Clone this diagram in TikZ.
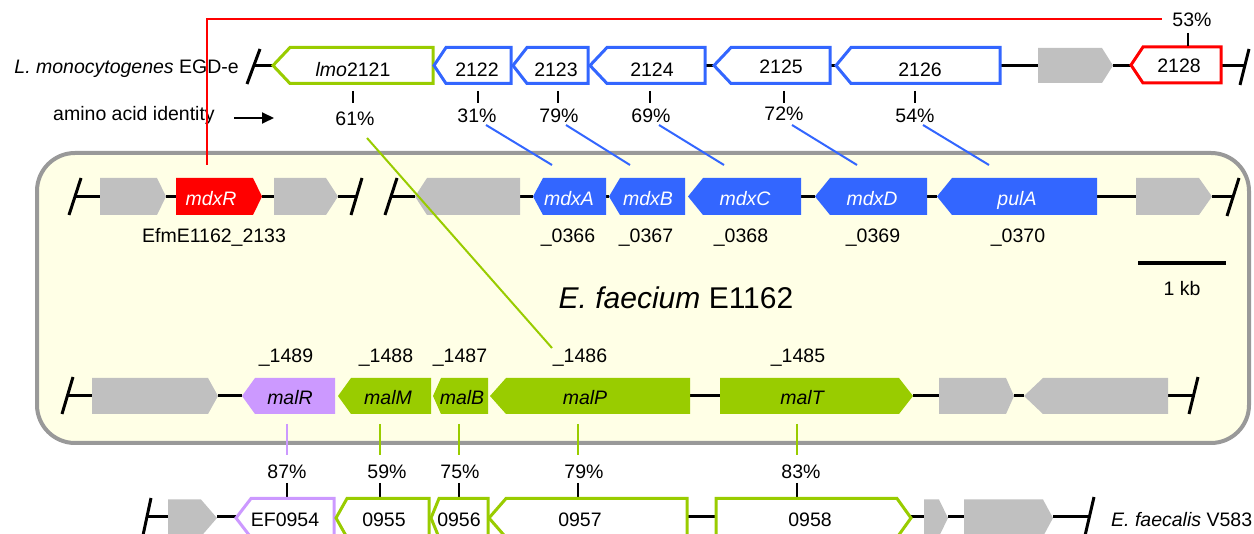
\documentclass[tikz,border=0pt]{standalone}
\usepackage{fontspec}
\setmainfont{Liberation Sans}
\usetikzlibrary{arrows.meta}
\definecolor{gblue}{HTML}{3366FF}
\definecolor{ggreen}{HTML}{99CC00}
\definecolor{gred}{HTML}{FF0000}
\definecolor{gpurple}{HTML}{CC99FF}
\definecolor{ggray}{HTML}{C0C0C0}
\definecolor{boxfill}{HTML}{FFFFE6}
\definecolor{boxline}{HTML}{999999}
% #1 style, #2 name, #3 tip, #4 shoulder, #5 right end, #6 top, #7 bottom
\newcommand\geneL[7]{\path[#1] (#3,{(#6+#7)/2}) -- (#4,#6) -- (#5,#6) -- (#5,#7) -- (#4,#7) -- cycle;
  \coordinate (#2) at ({(#3+#5)/2},{(#6+#7)/2});}
% #1 style, #2 name, #3 left end, #4 shoulder, #5 tip, #6 top, #7 bottom
\newcommand\geneR[7]{\path[#1] (#3,#6) -- (#4,#6) -- (#5,{(#6+#7)/2}) -- (#4,#7) -- (#3,#7) -- cycle;
  \coordinate (#2) at ({(#3+#5)/2},{(#6+#7)/2});}
\tikzset{
  txt/.style={font=\fontsize{19.5}{23}\selectfont, inner sep=0pt, anchor=base},
  itxt/.style={txt, font=\fontsize{19.5}{23}\selectfont\itshape},
  wtxt/.style={itxt, text=white},
  bb/.style={line width=3pt, black},
  tickst/.style={line width=1.5pt, black},
  ctick/.style={line width=2pt},
  conn/.style={line width=2pt},
  oB/.style={draw=gblue, fill=white, line width=3pt, line join=miter},
  oG/.style={draw=ggreen, fill=white, line width=3pt, line join=miter},
  oR/.style={draw=gred, fill=white, line width=3pt, line join=miter},
  oP/.style={draw=gpurple, fill=white, line width=3pt, line join=miter},
  fB/.style={fill=gblue},
  fG/.style={fill=ggreen},
  fR/.style={fill=gred},
  fP/.style={fill=gpurple},
  fX/.style={fill=ggray},
  ecbox/.style={draw=boxline, fill=boxfill, line width=4pt, rounded corners=38pt}
}
\begin{document}
\begin{tikzpicture}[x=1pt,y=-1pt]
\useasboundingbox (0,0) rectangle (1254,534);
\draw[ecbox] (37,153) rectangle (1249,443);

% ---------------- Row 1: L. monocytogenes ----------------
\draw[bb] (254,66) -- (273,66);
\draw[bb] (247,84) -- (260,49);
\draw[bb] (705,66) -- (714,66);
\draw[bb] (830,66) -- (836,66);
\draw[bb] (1000,66) -- (1038,66);
\draw[bb] (1113,66) -- (1131,66);
\draw[bb] (1221,66) -- (1244,66);
\draw[bb] (1240,85) -- (1249,49);
\geneL{oG}{g2121}{273}{290}{433}{47.5}{83.5}
\geneL{oB}{g2122}{434}{446}{511}{47.5}{83.5}
\geneL{oB}{g2123}{513}{527}{588}{47.5}{83.5}
\geneL{oB}{g2124}{590}{607}{705}{47.5}{83.5}
\geneL{oB}{g2125}{714}{731}{830}{47.5}{83.5}
\geneL{oB}{g2126}{836}{851}{1000}{47.5}{83.5}
\geneR{fX}{g2127}{1038}{1102}{1113}{48}{83}
\geneL{oR}{g2128}{1131}{1143}{1221}{47}{83}
\node[txt] (t2121) at (353,77) {\textit{lmo}2121};
\node[txt] (t2122) at (477,77) {2122};
\node[txt] (t2123) at (556,77) {2123};
\node[txt] (t2124) at (652,77) {2124};
\node[txt] (t2125) at (781,74) {2125};
\node[txt] (t2126) at (920,77) {2126};
\node[txt] (t2128) at (1179,73) {2128};
\node[txt, anchor=base east] (lmono) at (239,74) {\textit{L. monocytogenes} EGD-e};
\node[txt] (aai) at (134,121) {amino acid identity};
\coordinate (arA) at (234,118);
\coordinate (arB) at (274,118);
\draw[line width=2pt, -{Triangle[length=12pt,width=11pt]}] (arA) -- (arB);

% top percentages
\node[txt] (p61) at (355,126) {61\%};
\node[txt] (p31) at (477,123) {31\%};
\node[txt] (p79a) at (559,123) {79\%};
\node[txt] (p69) at (651,123) {69\%};
\node[txt] (p72) at (784,121) {72\%};
\node[txt] (p54) at (915,123) {54\%};
\node[txt] (p53) at (1192,27) {53\%};
\foreach \xx in {353,478,558,650,784,915} {\draw[tickst] (\xx,91) -- (\xx,103);}
\draw[tickst] (1188,33) -- (1188,46);

% ---------------- Row 2: E. faecium mdx ----------------
\draw[bb] (75,197) -- (100,197);
\draw[bb] (69,215) -- (81,178);
\draw[bb] (166,197) -- (176,197);
\draw[bb] (262,197) -- (274,197);
\draw[bb] (338,197) -- (356,197);
\draw[bb] (351,215) -- (362,178);
\draw[bb] (385,215) -- (397,178);
\draw[bb] (391,197) -- (415,197);
\draw[bb] (520,197) -- (533,197);
\draw[line width=3pt, black] (606,197) -- (609,197);
\draw[bb] (801,197) -- (815,197);
\draw[bb] (927,197) -- (937,197);
\draw[bb] (1097,197) -- (1136,197);
\draw[bb] (1212,197) -- (1233,197);
\draw[bb] (1227,216) -- (1239,178);
\geneR{fX}{e2132}{100}{157}{166}{178}{215}
\geneR{fR}{eR}{176}{253}{262}{178}{215}
\geneR{fX}{e2134}{274}{326}{338}{178}{215}
\geneL{fX}{e0365}{415}{427}{520}{178}{215}
\geneL{fB}{eA}{533}{543}{606}{178}{215}
\geneL{fB}{eB}{609}{620}{685}{178}{215}
\geneL{fB}{eC}{688}{703}{801}{178}{215}
\geneL{fB}{eD}{815}{830}{927}{178}{215}
\geneL{fB}{ePul}{937}{952}{1097}{178}{215}
\geneR{fX}{e0371}{1136}{1199}{1212}{178}{215}
\node[wtxt] (tmdxR) at (211,206) {mdxR};
\node[wtxt] (tmdxA) at (569,206) {mdxA};
\node[wtxt] (tmdxB) at (648,206) {mdxB};
\node[wtxt] (tmdxC) at (745,206) {mdxC};
\node[wtxt] (tmdxD) at (872,206) {mdxD};
\node[wtxt] (tpulA) at (1017,206) {pulA};
\node[txt] (l2133) at (214,243) {EfmE1162\_2133};
\node[txt] (l0366) at (568,243) {\_0366};
\node[txt] (l0367) at (646,243) {\_0367};
\node[txt] (l0368) at (741,243) {\_0368};
\node[txt] (l0369) at (873,243) {\_0369};
\node[txt] (l0370) at (1018,243) {\_0370};
\coordinate (sbA) at (1138,263);
\coordinate (sbB) at (1226,263);
\draw[line width=4pt] (sbA) -- (sbB);
\node[txt] (kb) at (1182,296) {1 kb};
\node[txt, font=\fontsize{30}{34}\selectfont] (title) at (676,309) {\textit{E. faecium} E1162};

% ---------------- Row 3: E. faecium mal ----------------
\draw[bb] (68,396) -- (92,396);
\draw[bb] (62,414) -- (73,377);
\draw[bb] (218,396) -- (242,396);
\draw[bb] (690,396) -- (720,396);
\draw[bb] (913,396) -- (939,396);
\draw[bb] (1014,396) -- (1024,396);
\draw[bb] (1168,396) -- (1194,396);
\draw[bb] (1189,414) -- (1198,377);
\geneR{fX}{m1491}{92}{208}{218}{378}{414}
\geneL{fP}{mR}{242}{255}{335}{378}{414}
\geneL{fG}{mM}{338}{351}{431}{378}{414}
\geneL{fG}{mB}{433}{441}{488}{378}{414}
\geneL{fG}{mP}{490}{506}{690}{378}{414}
\geneR{fG}{mT}{720}{899}{913}{378}{414}
\geneR{fX}{m1484}{939}{1006}{1014}{378}{414}
\geneL{fX}{m1483}{1024}{1043}{1168}{378}{414}
\node[itxt] (tmalR) at (290,405) {malR};
\node[itxt] (tmalM) at (388,405) {malM};
\node[itxt] (tmalB) at (462,405) {malB};
\node[itxt] (tmalP) at (585,405) {malP};
\node[itxt] (tmalT) at (802,405) {malT};
\node[txt] (l1489) at (286,363) {\_1489};
\node[txt] (l1488) at (386,363) {\_1488};
\node[txt] (l1487) at (460,363) {\_1487};
\node[txt] (l1486) at (580,363) {\_1486};
\node[txt] (l1485) at (798,363) {\_1485};
\draw[ctick, gpurple] (287,424) -- (287,455);
\foreach \xx in {380,459,578,797} {\draw[ctick, ggreen] (\xx,424) -- (\xx,455);}
\node[txt] (p87) at (287,479) {87\%};
\node[txt] (p59) at (387,479) {59\%};
\node[txt] (p75) at (460,479) {75\%};
\node[txt] (p79b) at (584,479) {79\%};
\node[txt] (p83) at (801,479) {83\%};
\foreach \xx in {287,380,459,578,797} {\draw[tickst] (\xx,483) -- (\xx,497);}

% ---------------- Row 4: E. faecalis ----------------
\draw[bb] (148,517) -- (168,517);
\draw[bb] (142,540) -- (151,498);
\draw[bb] (217,517) -- (236,517);
\draw[bb] (687,517) -- (716,517);
\draw[bb] (911,517) -- (924,517);
\draw[bb] (948,517) -- (964,517);
\draw[bb] (1053,517) -- (1090,517);
\draw[bb] (1084,540) -- (1094,497);
\geneR{fX}{f0953}{168}{201}{217}{499.5}{536.5}
\geneL{oP}{f0954}{236}{251}{334}{498.5}{537.5}
\geneL{oG}{f0955}{336}{347}{429}{498.5}{537.5}
\geneL{oG}{f0956}{431}{439}{488}{498.5}{537.5}
\geneL{oG}{f0957}{489}{506}{687}{498.5}{537.5}
\geneR{oG}{f0958}{716}{897}{911}{498.5}{537.5}
\geneR{fX}{f0959}{924}{939}{948}{499.5}{536.5}
\geneR{fX}{f0960}{964}{1043}{1053}{499.5}{536.5}
\node[txt] (tEF0954) at (285,526) {EF0954};
\node[txt] (t0955) at (384,526) {0955};
\node[txt] (t0956) at (459,526) {0956};
\node[txt] (t0957) at (580,526) {0957};
\node[txt] (t0958) at (810,526) {0958};
\node[txt, anchor=base west] (efaecalis) at (1111,526) {\textit{E. faecalis} V583};

% ---------------- connectors ----------------
\coordinate (rA) at (207,165);
\coordinate (rB) at (207,19);
\coordinate (rC) at (1162,19);
\draw[line width=2pt, gred] (rA) -- (rB) -- (rC);
\coordinate (gA) at (367,138);
\coordinate (gB) at (552,348);
\draw[conn, ggreen] (gA) -- (gB);
\coordinate (b1a) at (486,125); \coordinate (b1b) at (552,165);
\coordinate (b2a) at (566,125); \coordinate (b2b) at (630,165);
\coordinate (b3a) at (659,125); \coordinate (b3b) at (724,165);
\coordinate (b4a) at (792,125); \coordinate (b4b) at (857,165);
\coordinate (b5a) at (923,125); \coordinate (b5b) at (989,165);
\draw[conn, gblue] (b1a) -- (b1b);
\draw[conn, gblue] (b2a) -- (b2b);
\draw[conn, gblue] (b3a) -- (b3b);
\draw[conn, gblue] (b4a) -- (b4b);
\draw[conn, gblue] (b5a) -- (b5b);
\end{tikzpicture}
\end{document}
